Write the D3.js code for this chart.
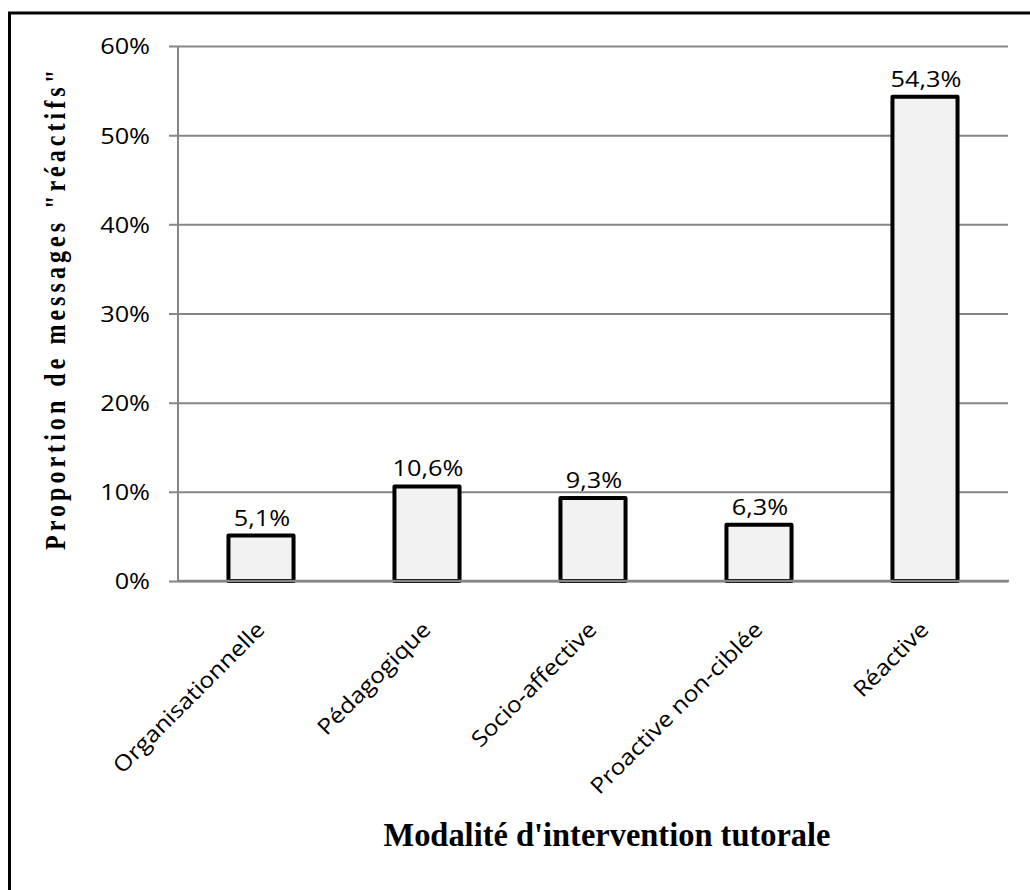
<!DOCTYPE html>
<html>
<head>
<meta charset="utf-8">
<script src="https://cdn.jsdelivr.net/npm/d3@7"></script>
<style>
  html, body { margin: 0; padding: 0; background: #fff; }
  svg { display: block; }
</style>
</head>
<body>
<svg id="chart" width="1030" height="890"></svg>
<script>
const categories = ["Organisationnelle", "Pédagogique", "Socio-affective", "Proactive non-ciblée", "Réactive"];
const values = [5.1, 10.6, 9.3, 6.3, 54.3];
const valueLabels = ["5,1%", "10,6%", "9,3%", "6,3%", "54,3%"];
const yTicks = [0, 10, 20, 30, 40, 50, 60];
const yTitle = "Proportion de messages \"réactifs\"";
const xTitle = "Modalité d'intervention tutorale";

(function () {
const svg = d3.select("#chart");
const sansFont = "'Open Sans', sans-serif";
const serifFont = "'Liberation Serif', 'Times New Roman', serif";

// outer frame (right/bottom edges fall outside the picture)
svg.append("rect")
  .attr("x", 9.5).attr("y", 13)
  .attr("width", 1200).attr("height", 1000)
  .attr("fill", "none").attr("stroke", "#000").attr("stroke-width", 3);

const pLeft = 178, pRight = 1008, pTop = 46, pBottom = 581;

const x = d3.scaleBand().domain(categories).range([pLeft, pRight])
  .paddingInner(0.608).paddingOuter(0.304);
const y = d3.scaleLinear().domain([0, 60]).range([pBottom, pTop]);

const gridColor = "#868686";

// gridlines via axis
const gy = svg.append("g")
  .attr("transform", `translate(${pLeft},0)`)
  .call(d3.axisLeft(y).tickValues(yTicks).tickSize(-(pRight - pLeft)).tickSizeOuter(0)
    .tickFormat(d => d + "%"));
gy.select(".domain").remove();
gy.selectAll(".tick line")
  .attr("x1", -9)
  .attr("stroke", gridColor).attr("stroke-width", 2);
gy.selectAll(".tick text")
  .attr("font-family", sansFont)
  .attr("font-size", 22)
  .attr("fill", "#000")
  .attr("x", 0)
  .attr("dy", "0.36em")
  .attr("transform", "translate(-28,0) scale(1.15,1)");

// y axis line
svg.append("line")
  .attr("x1", pLeft).attr("x2", pLeft)
  .attr("y1", y(60)).attr("y2", y(0))
  .attr("stroke", gridColor).attr("stroke-width", 2);

// bars
svg.append("g").selectAll("rect")
  .data(categories)
  .join("rect")
  .attr("x", d => x(d))
  .attr("width", x.bandwidth())
  .attr("y", (d, i) => y(values[i]))
  .attr("height", (d, i) => y(0) - y(values[i]))
  .attr("fill", "#f2f2f2")
  .attr("stroke", "#000")
  .attr("stroke-width", 4)
  .attr("stroke-linejoin", "round");

// x axis line on top
const gx = svg.append("g")
  .attr("transform", `translate(0,${pBottom})`)
  .call(d3.axisBottom(x).tickSize(0).tickPadding(0));
gx.select(".domain")
  .attr("stroke", gridColor).attr("stroke-width", 2.5)
  .attr("d", `M${pLeft},0H${pRight + 1}`);
gx.selectAll(".tick text")
  .attr("font-family", sansFont)
  .attr("font-size", 22)
  .attr("fill", "#000")
  .attr("text-anchor", "end")
  .attr("dy", 0)
  .attr("y", 0)
  .attr("transform", "translate(5,50) rotate(-45) scale(1.12,1)");

// value labels
svg.append("g").selectAll("text")
  .data(categories)
  .join("text")
  .attr("transform", (d, i) => `translate(${x(d) + x.bandwidth() / 2 + 1},${y(values[i]) - 10}) scale(1.15,1)`)
  .attr("text-anchor", "middle")
  .attr("font-family", sansFont)
  .attr("font-size", 22)
  .text((d, i) => valueLabels[i]);

// y title
svg.append("text")
  .attr("transform", "translate(65,310) scale(1.25,1) rotate(-90)")
  .attr("text-anchor", "middle")
  .attr("font-family", serifFont)
  .attr("font-weight", "bold")
  .attr("font-size", 24)
  .attr("textLength", 480)
  .attr("lengthAdjust", "spacing")
  .text(yTitle);

// x title
svg.append("text")
  .attr("x", 607).attr("y", 846)
  .attr("text-anchor", "middle")
  .attr("font-family", serifFont)
  .attr("font-weight", "bold")
  .attr("font-size", 33)
  .attr("textLength", 447)
  .attr("lengthAdjust", "spacingAndGlyphs")
  .text(xTitle);
})();
</script>
</body>
</html>
